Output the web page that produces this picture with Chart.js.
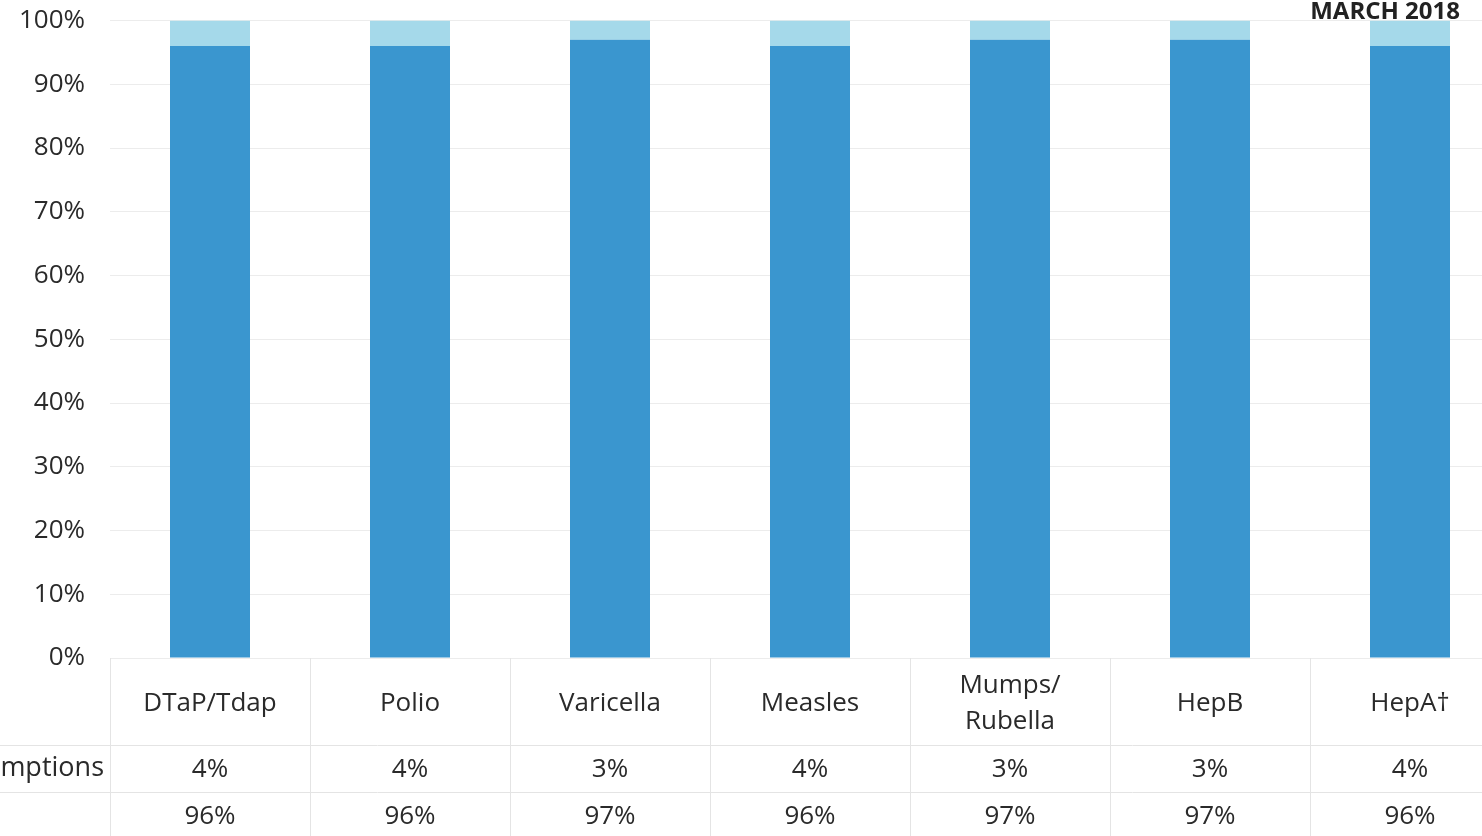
<!DOCTYPE html>
<html>
<head>
<meta charset="utf-8">
<script src="https://cdn.jsdelivr.net/npm/chart.js@4/dist/chart.umd.min.js"></script>
<style>
  html, body { margin: 0; padding: 0; background: #fff; overflow: hidden; }
  #wrap { position: relative; width: 1510px; height: 856px; margin-top: -20px; }
</style>
</head>
<body>
<div id="wrap"><canvas id="myChart"></canvas></div>
<script>
var vaccines = [["DTaP/Tdap"], ["Polio"], ["Varicella"], ["Measles"], ["Mumps/", "Rubella"], ["HepB"], ["HepA\u2020"]];
var exemptions = [4, 4, 3, 4, 3, 3, 4];
var upToDate = [96, 96, 97, 96, 97, 97, 96];
var rowLabels = ["Exemptions", ""];
var yTicks = [0, 10, 20, 30, 40, 50, 60, 70, 80, 90, 100];
var chartTitle = "MARCH 2018";

var FONT = "'Open Sans', sans-serif";
var OFF = 20; // canvas is shifted up by this much

// draws the data table under the plot and the date in the corner
var tablePlugin = {
  id: 'dataTable',
  afterDraw: function (chart) {
    var ctx = chart.ctx;
    var x = chart.scales.x;
    var area = chart.chartArea;
    var step = x.getPixelForValue(1) - x.getPixelForValue(0);
    var row1 = 745 + OFF, row2 = 792 + OFF, bottom = chart.height;

    ctx.save();
    ctx.strokeStyle = '#e4e4e4';
    ctx.lineWidth = 1;
    // column borders
    for (var i = 0; i <= vaccines.length; i++) {
      var cx = Math.round(x.getPixelForValue(i) - step / 2) + 0.5;
      ctx.beginPath();
      ctx.moveTo(cx, area.bottom);
      ctx.lineTo(cx, bottom);
      ctx.stroke();
    }
    // row borders
    [row1, row2].forEach(function (ry) {
      ctx.beginPath();
      ctx.moveTo(0, ry + 0.5);
      ctx.lineTo(chart.width, ry + 0.5);
      ctx.stroke();
    });

    ctx.fillStyle = '#2a2a2a';
    ctx.font = '26px ' + FONT;
    ctx.textAlign = 'center';
    ctx.textBaseline = 'middle';
    vaccines.forEach(function (lines, i) {
      var cx = x.getPixelForValue(i);
      var mid = 704 + OFF, lh = 36;
      lines.forEach(function (t, j) {
        ctx.fillText(t, cx, mid + (j - (lines.length - 1) / 2) * lh);
      });
      ctx.fillText(exemptions[i] + '%', cx, 770 + OFF);
      ctx.fillText(upToDate[i] + '%', cx, 817 + OFF);
    });

    ctx.textAlign = 'right';
    ctx.font = '27px ' + FONT;
    ctx.fillText(rowLabels[0], 104, 768 + OFF);
    ctx.fillText(rowLabels[1], 104, 817 + OFF);

    ctx.font = 'bold 24px ' + FONT;
    ctx.textAlign = 'right';
    ctx.fillStyle = '#222';
    ctx.fillText(chartTitle, 1460, 12 + OFF);
    ctx.restore();
  }
};

new Chart(document.getElementById('myChart'), {
  type: 'bar',
  data: {
    labels: vaccines,
    datasets: [{
      label: 'Up to date',
      data: upToDate,
      backgroundColor: '#3a96cf'
    }, {
      label: 'Exemptions',
      data: exemptions,
      backgroundColor: '#a5d9ea'
    }]
  },
  options: {
    responsive: true,
    maintainAspectRatio: false,
    animation: false,
    layout: { padding: { top: 2, right: 0, left: 0, bottom: 0 } },
    datasets: { bar: { categoryPercentage: 1, barPercentage: 0.4 } },
    scales: {
      x: {
        stacked: true,
        grid: { display: false },
        border: { display: false },
        ticks: { display: false },
        afterFit: function (axis) { axis.height = 178; }
      },
      y: {
        stacked: true,
        min: 0,
        max: 100,
        afterBuildTicks: function (axis) {
          axis.ticks = yTicks.map(function (v) { return { value: v }; });
        },
        grid: { color: '#ececec', drawTicks: false },
        border: { display: false },
        ticks: {
          padding: 25,
          color: '#2a2a2a',
          font: { family: FONT, size: 26 },
          callback: function (v) { return v + '%'; }
        },
        afterFit: function (axis) { axis.width = 110; }
      }
    },
    plugins: {
      legend: { display: false },
      tooltip: { enabled: false }
    }
  },
  plugins: [tablePlugin]
});
</script>
</body>
</html>
